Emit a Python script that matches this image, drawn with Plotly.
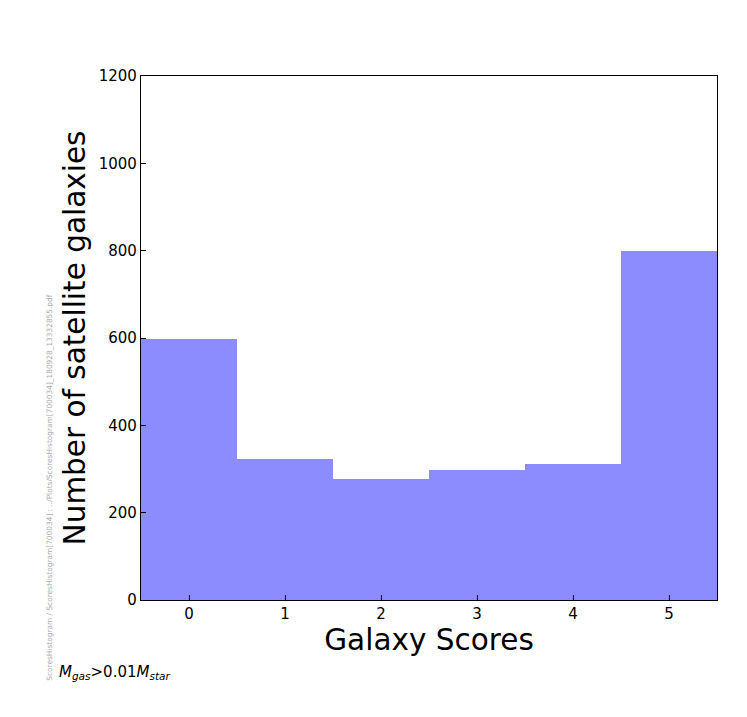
import plotly.graph_objects as go

# galaxy score bins and counts
scores = [0, 1, 2, 3, 4, 5]
counts = [598, 323, 276, 298, 311, 799]

y_ticks = [0, 200, 400, 600, 800, 1000, 1200]
x_ticks = [0, 1, 2, 3, 4, 5]

side_note = "ScoresHistogram / ScoresHistogram[700034] : ../Plots/ScoresHistogram[700034]_180928_13332855.pdf"

fig = go.Figure()

fig.add_trace(go.Bar(x=scores, y=counts, width=1.0,
                     marker_color="#8c8cff", marker_line_width=0,
                     showlegend=False))

fig.update_layout(
    width=747, height=717,
    paper_bgcolor="white", plot_bgcolor="white",
    margin=dict(l=133, r=38, t=68, b=125),
    font=dict(family="DejaVu Sans", color="black", size=15),
    bargap=0,
)

fig.update_xaxes(range=[-0.5, 5.5], tickvals=x_ticks, ticks="inside", ticklen=5,
                 tickcolor="black", showline=True, linecolor="black", linewidth=1.3,
                 mirror=True, showgrid=False, zeroline=False,
                 title=dict(text="Galaxy Scores", font=dict(size=29.5), standoff=2))
fig.update_yaxes(range=[0, 1200], tickvals=y_ticks, ticks="inside", ticklen=5,
                 tickcolor="black", showline=True, linecolor="black", linewidth=1.3,
                 mirror=True, showgrid=False, zeroline=False,
                 title=dict(text="Number of satellite galaxies", font=dict(size=29.5), standoff=4))

fig.add_annotation(text="<i>M</i><sub><i>gas</i></sub>&gt;0.01<i>M</i><sub><i>star</i></sub>",
                   xref="paper", yref="paper", x=-0.146, y=-0.139,
                   xanchor="left", yanchor="middle", showarrow=False,
                   font=dict(size=15, color="black"))

fig.add_annotation(text=side_note, textangle=-90,
                   xref="paper", yref="paper", x=-0.159, y=-0.157,
                   xanchor="center", yanchor="bottom", showarrow=False,
                   font=dict(size=7.4, color="#aaaaaa"))

fig.write_html("out.html")
